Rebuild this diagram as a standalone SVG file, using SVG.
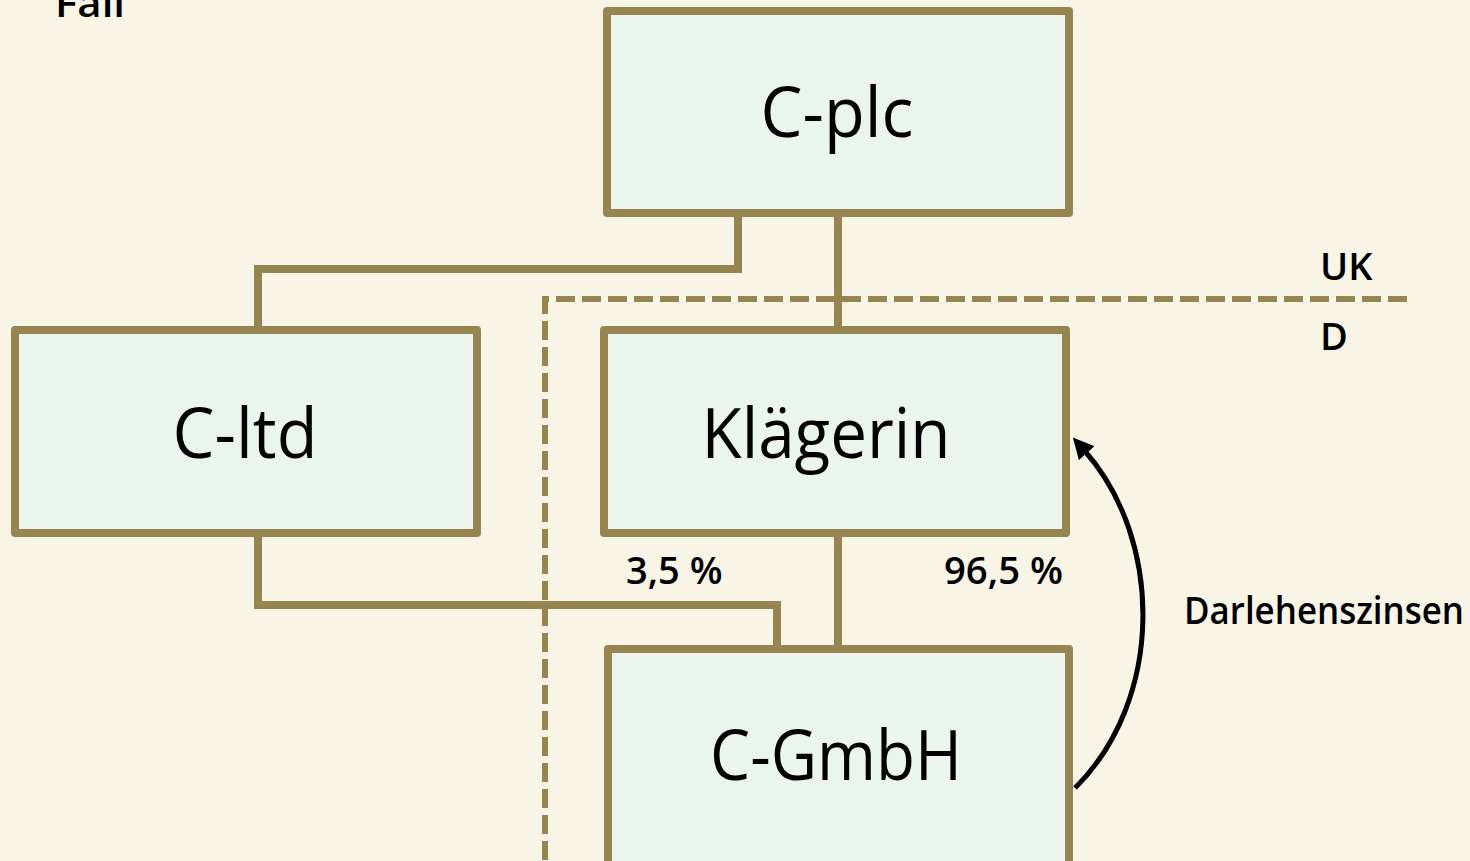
<svg xmlns="http://www.w3.org/2000/svg" width="1470" height="861" viewBox="0 0 1470 861">
  <style>
    .box { fill: #EAF5EE; stroke: #97854F; stroke-width: 8; stroke-linejoin: round; }
    .link { fill: none; stroke: #97854F; stroke-width: 8; }
    .border { fill: none; stroke: #97854F; stroke-width: 6; stroke-dasharray: 19 7; }
    .name { font-family: "Open Sans", "Liberation Sans", sans-serif; font-size: 70px; fill: #000; text-anchor: middle; }
    .lbl { font-family: "Open Sans", "Liberation Sans", sans-serif; font-size: 38px; font-weight: 600; fill: #000; }
  </style>
  <defs>
    <marker id="arrow" viewBox="0 0 10 10" refX="2" refY="5" markerWidth="4.2" markerHeight="4.2" orient="auto-start-reverse">
      <path d="M0,0 L10,5 L0,10 z" fill="#000"/>
    </marker>
  </defs>
  <rect width="1470" height="861" fill="#F8F5E6"/>

  <text class="lbl" x="55" y="17" font-size="46" textLength="70" lengthAdjust="spacingAndGlyphs">Fall</text>

  <!-- border between UK and D -->
  <g id="border">
    <path class="border" d="M1407,299 H545 V861"/>
    <text class="lbl" x="1320" y="280">UK</text>
    <text class="lbl" x="1320" y="350">D</text>
  </g>

  <g id="connectors">
    <path class="link" d="M738,213 V269 H258 V330"/>
    <path class="link" d="M838,213 V330"/>
    <path class="link" d="M258,533 V605 H777 V649"/>
    <path class="link" d="M838,533 V649"/>
    <path d="M1075,788 C1164,700 1164,540 1084,450" fill="none" stroke="#000" stroke-width="5" marker-end="url(#arrow)"/>
    <text class="lbl" x="626" y="584">3,5 %</text>
    <text class="lbl" x="944" y="584" textLength="119" lengthAdjust="spacingAndGlyphs">96,5 %</text>
    <text class="lbl" x="1184" y="624" textLength="280" lengthAdjust="spacingAndGlyphs">Darlehenszinsen</text>
  </g>

  <g id="c-plc">
    <rect class="box" x="607" y="11" width="462" height="202"/>
    <text class="name" x="837" y="137" textLength="153" lengthAdjust="spacingAndGlyphs">C-plc</text>
  </g>
  <g id="c-ltd">
    <rect class="box" x="15" y="330" width="462" height="203"/>
    <text class="name" x="245" y="458" textLength="145" lengthAdjust="spacingAndGlyphs">C-ltd</text>
  </g>
  <g id="klaegerin">
    <rect class="box" x="604" y="330" width="462" height="203"/>
    <text class="name" x="826" y="458" textLength="249" lengthAdjust="spacingAndGlyphs">Klägerin</text>
  </g>
  <g id="c-gmbh">
    <rect class="box" x="608" y="649" width="461" height="240"/>
    <text class="name" x="836" y="780" textLength="252" lengthAdjust="spacingAndGlyphs">C-GmbH</text>
  </g>
</svg>
